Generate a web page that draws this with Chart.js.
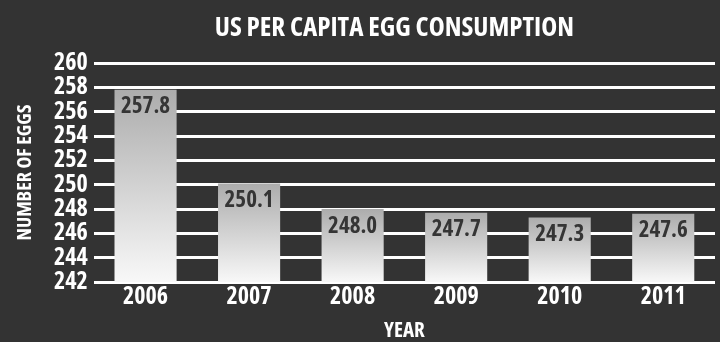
<!DOCTYPE html>
<html>
<head>
<meta charset="utf-8">
<script src="https://cdn.jsdelivr.net/npm/chart.js@4.4.1/dist/chart.umd.min.js"></script>
<style>
  html, body { margin: 0; padding: 0; background: #333333; }
</style>
</head>
<body>
<canvas id="myChart" width="720" height="342"></canvas>
<script>
// Chart data
const years = ['2006', '2007', '2008', '2009', '2010', '2011'];
const eggsPerCapita = [257.8, 250.1, 248.0, 247.7, 247.3, 247.6];
const yTicks = [242, 244, 246, 248, 250, 252, 254, 256, 258, 260];
const chartTitle = 'US PER CAPITA EGG CONSUMPTION';

// Open Sans condensed is the closest thing to the poster-style lettering
const FONT = "'Open Sans', sans-serif";
const WEIGHT = 'bold condensed';

// Gradient per bar: grey at the top, near white at the bottom
function barGradient(context) {
    const chart = context.chart;
    if (!chart.chartArea) return '#cccccc';
    const yScale = chart.scales.y;
    const top = yScale.getPixelForValue(context.raw);
    const bottom = yScale.getPixelForValue(yScale.min);
    const g = chart.ctx.createLinearGradient(0, top, 0, bottom);
    g.addColorStop(0, '#acacac');
    g.addColorStop(1, '#f8f8f8');
    return g;
}

// Title sits a little right of the canvas centre, over the plot
const titlePlugin = {
    id: 'posterTitle',
    afterDraw(chart) {
        const ctx = chart.ctx;
        ctx.save();
        ctx.font = WEIGHT + ' 27px ' + FONT;
        ctx.fillStyle = '#ffffff';
        ctx.textAlign = 'center';
        ctx.textBaseline = 'middle';
        ctx.fillText(chartTitle, (chart.chartArea.left + chart.chartArea.right) / 2 - 10, 28);
        ctx.restore();
    }
};

// Value labels written inside the top of each bar
const valueLabels = {
    id: 'valueLabels',
    afterDatasetsDraw(chart) {
        const ctx = chart.ctx;
        const meta = chart.getDatasetMeta(0);
        ctx.save();
        ctx.font = WEIGHT + ' 23px ' + FONT;
        ctx.fillStyle = '#353535';
        ctx.textAlign = 'center';
        ctx.textBaseline = 'middle';
        meta.data.forEach((bar, i) => {
            ctx.fillText(eggsPerCapita[i].toFixed(1), bar.x, bar.y + 17);
        });
        ctx.restore();
    }
};

new Chart(document.getElementById('myChart'), {
    type: 'bar',
    data: {
        labels: years,
        datasets: [{
            data: eggsPerCapita,
            backgroundColor: barGradient,
            borderWidth: 0,
            barPercentage: 0.6,
            categoryPercentage: 1.0
        }]
    },
    options: {
        responsive: false,
        animation: false,
        layout: { padding: { left: 13, right: 5, top: 63, bottom: 0 } },
        plugins: {
            legend: { display: false },
            tooltip: { enabled: false },
            title: { display: false }
        },
        scales: {
            x: {
                grid: { display: false, drawTicks: false },
                border: { display: false },
                ticks: {
                    color: '#ffffff',
                    font: { family: FONT, size: 24, weight: WEIGHT, lineHeight: 1.0 },
                    padding: 3
                },
                title: {
                    display: true,
                    text: 'YEAR',
                    color: '#ffffff',
                    font: { family: FONT, size: 21, weight: WEIGHT, lineHeight: 1.0 },
                    padding: { top: 9, bottom: 0 }
                }
            },
            y: {
                min: 242,
                max: 260,
                afterBuildTicks(axis) {
                    axis.ticks = yTicks.map(v => ({ value: v }));
                },
                grid: {
                    color: '#ffffff',
                    lineWidth: 3,
                    drawTicks: false
                },
                border: { display: false },
                ticks: {
                    autoSkip: false,
                    color: '#ffffff',
                    font: { family: FONT, size: 24, weight: WEIGHT },
                    padding: 6
                },
                title: {
                    display: true,
                    text: 'NUMBER OF EGGS',
                    color: '#ffffff',
                    font: { family: FONT, size: 20, weight: WEIGHT, lineHeight: 1.2 },
                    padding: { top: 0, bottom: 11 }
                }
            }
        }
    },
    plugins: [valueLabels, titlePlugin]
});
</script>
</body>
</html>
